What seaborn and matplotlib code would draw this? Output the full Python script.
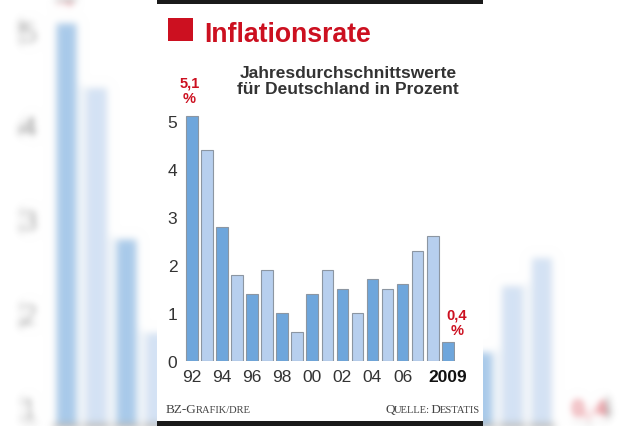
import numpy as np
import pandas as pd
import seaborn as sns
import matplotlib
matplotlib.use("Agg")
from matplotlib import pyplot as plt
from matplotlib.patches import Rectangle

# Inflation rate, yearly averages for Germany (percent)
years = [str(y) for y in range(1992, 2010)]
rates = [5.1, 4.4, 2.8, 1.8, 1.4, 1.9, 1.0, 0.6, 1.4, 1.9, 1.5, 1.0, 1.7, 1.5, 1.6, 2.3, 2.6, 0.4]
shades = ["dark", "light", "dark", "light", "dark", "light", "dark", "light", "dark",
          "light", "dark", "light", "dark", "light", "dark", "light", "light", "dark"]
tick_labels = ["92", "", "94", "", "96", "", "98", "", "00", "", "02", "", "04", "",
               "06", "", "", "2009"]
callouts = {"1992": "5,1\n%", "2009": "0,4\n%"}

title = "Inflationsrate"
subtitle = "Jahresdurchschnittswerte\nfür Deutschland in Prozent"

RED = "#cc1020"
shade_colors = {"dark": "#6ea6dc", "light": "#b7cfee"}

df = pd.DataFrame({"year": years, "rate": rates, "shade": shades})


def gauss_blur(im, dpi):
    # soft focus for the enlarged backdrop
    pad = 14
    sigma = 4.5
    k = np.exp(-0.5 * (np.arange(-pad, pad + 1) / sigma) ** 2)
    k /= k.sum()
    a = np.pad(im, ((pad, pad), (pad, pad), (0, 0)))
    a = np.apply_along_axis(lambda m: np.convolve(m, k, mode="same"), 0, a)
    a = np.apply_along_axis(lambda m: np.convolve(m, k, mode="same"), 1, a)
    return a, -pad, -pad


def draw_bars(ax, scale, edge, top_dy):
    sns.barplot(data=df, x="year", y="rate", hue="shade", palette=shade_colors,
                order=years, width=0.77, edgecolor=edge, linewidth=0.8 * scale,
                saturation=1, legend=False, dodge=False, ax=ax)
    ax.set_xlim(-0.5, len(years) - 0.5)
    for yr, txt in callouts.items():
        i = years.index(yr)
        r = rates[i]
        dx = -0.15 if i == 0 else 0.6
        dy = top_dy if i == 0 else 0.1
        ax.text(i + dx, r + dy, txt, ha="center", va="bottom", color=RED,
                fontsize=10.5 * scale, fontweight="bold", family="Liberation Sans",
                linespacing=1.15)
    for s in ax.spines.values():
        s.set_visible(False)
    ax.set_xlabel("")
    ax.set_ylabel("")
    ax.set_yticks(range(0, 6))
    ax.tick_params(axis="y", length=3 * scale, width=0.8, color="#555555",
                   labelsize=12.5 * scale, labelcolor="#333333", pad=2 * scale)
    ax.set_xticks(range(len(years)))
    ax.set_xticklabels(tick_labels)
    ax.tick_params(axis="x", length=0, labelsize=12.5 * scale, labelcolor="#333333",
                   pad=6 * scale)
    for lab in ax.get_yticklabels() + ax.get_xticklabels():
        lab.set_family("Liberation Sans")
    last = ax.get_xticklabels()[-1]
    last.set_fontweight("bold")
    last.set_color("#111111")


sns.set_theme(style="white")
plt.rcParams["font.family"] = ["Liberation Sans", "DejaVu Sans"]

fig = plt.figure(figsize=(6.4, 4.27), dpi=100)
fig.patch.set_facecolor("white")

# enlarged, blurred copy of the chart in the background
bg = fig.add_axes([52 / 640, -75 / 427, 534.6 / 640, 507.6 / 427], zorder=0)
bg.set_facecolor("none")
draw_bars(bg, 1.96, "#cdd8e4", 0.1)
bg.set_ylim(0, 5.4)
for p in bg.patches:
    p.set_alpha(0.6)
bg.set_agg_filter(gauss_blur)

# white card
fig.add_artist(Rectangle((157 / 640, 0), 326 / 640, 1, transform=fig.transFigure,
                         facecolor="white", edgecolor="none", zorder=1))
fig.add_artist(Rectangle((157 / 640, 1 - 4.5 / 427), 326 / 640, 4.5 / 427,
                         transform=fig.transFigure, facecolor="#1a1a1a",
                         edgecolor="none", zorder=3))
fig.add_artist(Rectangle((157 / 640, 0), 326 / 640, 5 / 427,
                         transform=fig.transFigure, facecolor="#1a1a1a",
                         edgecolor="none", zorder=3))

ax = fig.add_axes([184.3 / 640, 65 / 427, 271 / 640, 249.6 / 427], zorder=2)
ax.set_facecolor("none")
draw_bars(ax, 1.0, "#8c96a2", 0.23)
ax.set_ylim(0, 5.2)

# title block
fig.add_artist(Rectangle((168 / 640, 1 - 42 / 427), 24.5 / 640, 23 / 427,
                         transform=fig.transFigure, facecolor=RED,
                         edgecolor="none", zorder=3))
fig.text(204 / 640, 1 - 42.5 / 427, title, color=RED, fontsize=19.2, fontweight="bold",
         family=["Liberation Sans", "DejaVu Sans"], va="baseline", zorder=4)
fig.text(348 / 640, 1 - 94 / 427, subtitle, color="#333333", fontsize=12.5,
         fontweight="bold", ha="center", va="baseline", linespacing=1.1,
         multialignment="center", zorder=4)

# footer in small caps
renderer = fig.canvas.get_renderer()


def small_caps(x, parts, align):
    objs = []
    for s, size in parts:
        t = fig.text(0, 1 - 413 / 427, s, fontsize=size, color="#444444",
                     family=["Liberation Serif", "DejaVu Serif"], va="baseline",
                     zorder=4)
        objs.append(t)
    # text extents carry a little side padding, trim it so the pieces join up
    widths = [t.get_window_extent(renderer).width / fig.bbox.width - 1.5 / 640
              for t in objs]
    pos = x if align == "left" else x - sum(widths)
    for t, w in zip(objs, widths):
        t.set_x(pos)
        pos += w


small_caps(166 / 640, [("BZ-G", 9.5), ("RAFIK/DRE", 7.6)], "left")
small_caps(478 / 640, [("Q", 9.5), ("UELLE:", 7.6), (" D", 9.5), ("ESTATIS", 7.6)],
           "right")

fig.savefig("out.png", dpi=100)
